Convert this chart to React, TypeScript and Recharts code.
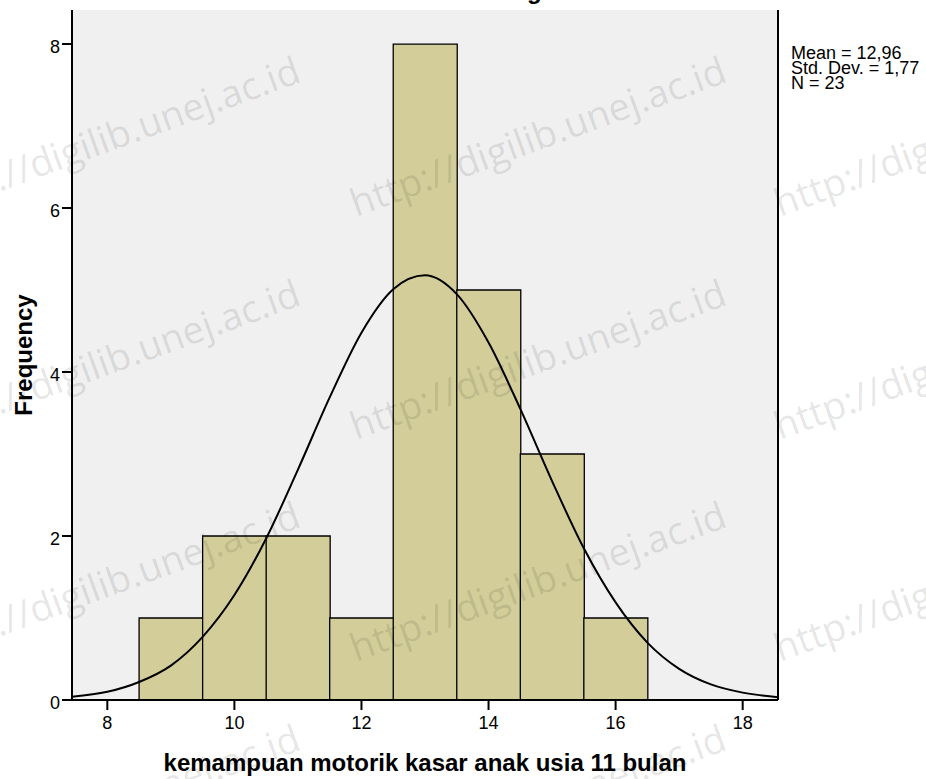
import {
  Bar,
  CartesianGrid,
  ComposedChart,
  Line,
  XAxis,
  YAxis,
} from "recharts";

// histogram bins (centre of each 1-wide bin) and their counts
const binCenters = [9, 10, 11, 12, 13, 14, 15, 16];
const frequencies = [1, 2, 2, 1, 8, 5, 3, 1];

// normal curve
const curveX = [
  7.444, 8, 8.5, 9, 9.5, 10, 10.5, 11, 11.5, 12, 12.5, 13, 13.5, 14, 14.5, 15,
  15.5, 16, 16.5, 17, 17.5, 18, 18.556,
];
const curveY = [
  0.04, 0.1, 0.22, 0.42, 0.77, 1.28, 1.97, 2.81, 3.69, 4.48, 5.01, 5.18, 4.95,
  4.36, 3.55, 2.67, 1.85, 1.19, 0.7, 0.38, 0.19, 0.09, 0.035,
];

const xTicks = [8, 10, 12, 14, 16, 18];
const yTicks = [0, 2, 4, 6, 8];
const xDomain = [7.444, 18.556];
const yDomain = [0, 8.415];

const statsLines = ["Mean = 12,96", "Std. Dev. = 1,77", "N = 23"];
const watermark = "http://digilib.unej.ac.id";
const watermarkCols = [-70, 356, 780];
const watermarkRows = [217, 440, 662, 885];

const bins = binCenters.map((x, i) => ({ x, freq: frequencies[i] }));
const curve = curveX.map((x, i) => ({ x, y: curveY[i] }));

const FONT = "'Liberation Sans', Arial, sans-serif";
const tickStyle = { fill: "#000", fontSize: 18, fontFamily: FONT };
const frameLine = { stroke: "#000", strokeWidth: 2 };

export default function App() {
  return (
    <div
      style={{
        position: "absolute",
        left: 0,
        top: 0,
        width: 926,
        height: 779,
        background: "#fff",
      }}
    >
      <ComposedChart
        width={926}
        height={779}
        data={bins}
        barCategoryGap={0}
        barGap={0}
        margin={{ top: 10, right: 147, bottom: 0, left: 0 }}
      >
        <CartesianGrid
          xAxisId="bins"
          yAxisId="freq"
          horizontal={false}
          vertical={false}
          fill="#f0f0f0"
        />
        <XAxis
          xAxisId="bins"
          dataKey="x"
          type="number"
          domain={xDomain}
          ticks={xTicks}
          allowDataOverflow
          height={79}
          tickSize={10}
          tickMargin={6}
          fontSize={18}
          tick={tickStyle}
          axisLine={frameLine}
          tickLine={frameLine}
          label={{
            value: "kemampuan motorik kasar anak usia 11 bulan",
            position: "insideBottom",
            offset: 8,
            fill: "#000",
            fontSize: 24,
            fontWeight: "bold",
            fontFamily: FONT,
          }}
        />
        <XAxis
          xAxisId="curve"
          dataKey="x"
          type="number"
          orientation="top"
          domain={xDomain}
          allowDataOverflow
          height={0}
          tick={false}
          tickLine={false}
          axisLine={frameLine}
        />
        <YAxis
          yAxisId="freq"
          type="number"
          domain={yDomain}
          ticks={yTicks}
          allowDataOverflow
          width={72}
          tickSize={10}
          tickMargin={2}
          fontSize={18}
          tick={{ ...tickStyle, dy: 3 }}
          axisLine={frameLine}
          tickLine={frameLine}
          label={{
            value: "Frequency",
            angle: -90,
            position: "insideLeft",
            offset: 23,
            fill: "#000",
            fontSize: 24,
            fontWeight: "bold",
            fontFamily: FONT,
            style: { textAnchor: "middle" },
          }}
        />
        <YAxis
          yAxisId="frame"
          type="number"
          orientation="right"
          domain={yDomain}
          allowDataOverflow
          width={1}
          tick={false}
          tickLine={false}
          axisLine={frameLine}
        />
        <Bar
          xAxisId="bins"
          yAxisId="freq"
          dataKey="freq"
          fill="#d3ce99"
          stroke="#000"
          strokeWidth={1.3}
          isAnimationActive={false}
        />
        <Line
          data={curve}
          xAxisId="curve"
          yAxisId="frame"
          dataKey="y"
          type="monotone"
          stroke="#000"
          strokeWidth={2}
          dot={false}
          activeDot={false}
          isAnimationActive={false}
        />
      </ComposedChart>
      <svg
        width={926}
        height={779}
        style={{ position: "absolute", left: 0, top: 0, pointerEvents: "none" }}
      >
        <text
          x={467}
          y={-1}
          fontFamily={FONT}
          fontWeight="bold"
          fontSize={24}
          fill="#000"
        >
          Histogram
        </text>
        {statsLines.map((line, i) => (
          <text
            key={line}
            x={791}
            y={59 + i * 15}
            fontFamily={FONT}
            fontSize={18}
            fill="#000"
          >
            {line}
          </text>
        ))}
        {watermarkRows.map((y) =>
          watermarkCols.map((x) => (
            <text
              key={`${x}-${y}`}
              x={x}
              y={y}
              transform={`rotate(-20 ${x} ${y})`}
              fontFamily="'Open Sans', sans-serif"
              fontSize={38}
              fill="#000"
              fillOpacity={0.11}
            >
              {watermark}
            </text>
          ))
        )}
      </svg>
    </div>
  );
}
